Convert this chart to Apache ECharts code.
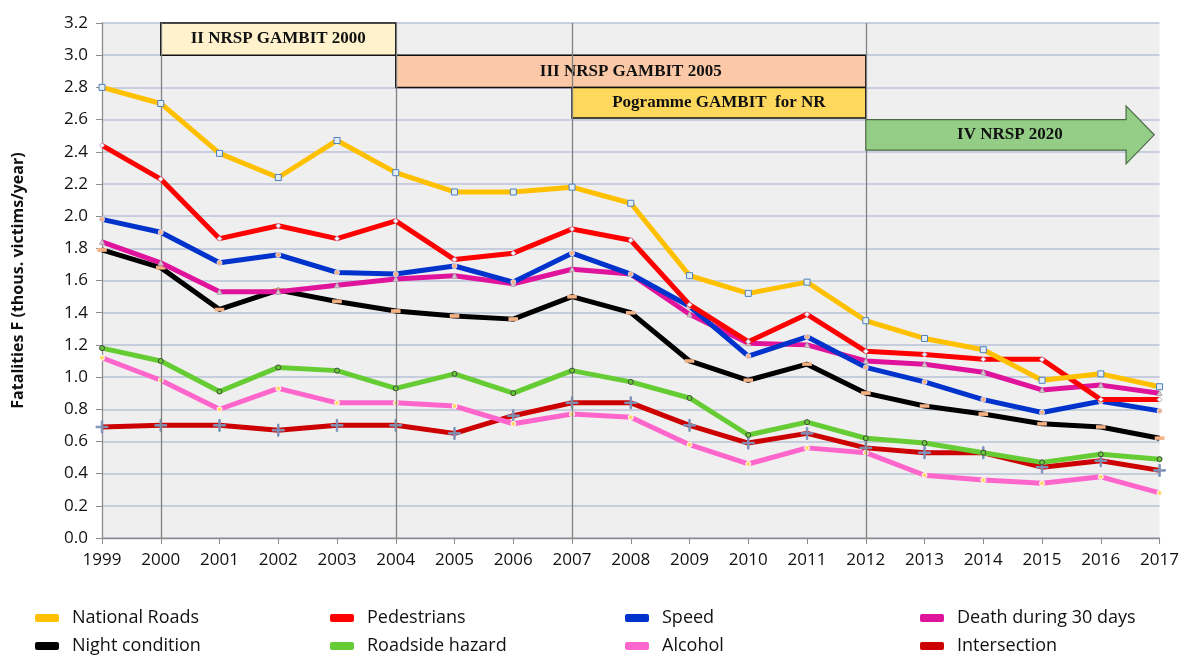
<!DOCTYPE html>
<html>
<head>
<meta charset="utf-8">
<title>Fatalities</title>
<script src="https://cdn.jsdelivr.net/npm/echarts/dist/echarts.min.js"></script>
<style>
  html, body { margin: 0; padding: 0; background: #fff; }
  #chart { width: 1182px; height: 656px; }
</style>
</head>
<body>
<div id="chart"></div>
<script>
// 年份
const years = ['1999', '2000', '2001', '2002', '2003', '2004', '2005', '2006', '2007', '2008',
  '2009', '2010', '2011', '2012', '2013', '2014', '2015', '2016', '2017']

// 各类死亡人数 (千人/年)
const nationalRoads = [2.80, 2.70, 2.39, 2.24, 2.47, 2.27, 2.15, 2.15, 2.18, 2.08, 1.63, 1.52, 1.59, 1.35, 1.24, 1.17, 0.98, 1.02, 0.94]
const pedestrians = [2.44, 2.23, 1.86, 1.94, 1.86, 1.97, 1.73, 1.77, 1.92, 1.85, 1.45, 1.22, 1.39, 1.16, 1.14, 1.11, 1.11, 0.86, 0.86]
const speed = [1.98, 1.90, 1.71, 1.76, 1.65, 1.64, 1.69, 1.59, 1.77, 1.64, 1.44, 1.13, 1.25, 1.06, 0.97, 0.86, 0.78, 0.85, 0.79]
const death30 = [1.84, 1.71, 1.53, 1.53, 1.57, 1.61, 1.63, 1.58, 1.67, 1.64, 1.39, 1.21, 1.20, 1.10, 1.08, 1.03, 0.92, 0.95, 0.90]
const nightCondition = [1.79, 1.68, 1.42, 1.54, 1.47, 1.41, 1.38, 1.36, 1.50, 1.40, 1.10, 0.98, 1.08, 0.90, 0.82, 0.77, 0.71, 0.69, 0.62]
const roadsideHazard = [1.18, 1.10, 0.91, 1.06, 1.04, 0.93, 1.02, 0.90, 1.04, 0.97, 0.87, 0.64, 0.72, 0.62, 0.59, 0.53, 0.47, 0.52, 0.49]
const alcohol = [1.12, 0.98, 0.80, 0.93, 0.84, 0.84, 0.82, 0.71, 0.77, 0.75, 0.58, 0.46, 0.56, 0.53, 0.39, 0.36, 0.34, 0.38, 0.28]
const intersection = [0.69, 0.70, 0.70, 0.67, 0.70, 0.70, 0.65, 0.76, 0.84, 0.84, 0.70, 0.59, 0.65, 0.56, 0.53, 0.53, 0.44, 0.48, 0.42]

// 纵轴刻度
const yMin = 0
const yMax = 3.2
const yStep = 0.2

// 各阶段 (起止年份 + 纵向范围)
const phaseNames = ['II NRSP GAMBIT 2000', 'III NRSP GAMBIT 2005', 'Pogramme GAMBIT  for NR']
const phaseStart = ['2000', '2004', '2007']
const phaseEnd = ['2004', '2012', '2012']
const phaseTop = [3.2, 3.0, 2.8]
const phaseBottom = [3.0, 2.8, 2.61]
const arrowName = 'IV NRSP 2020'
const arrowStart = '2012'

// 竖线所在年份
const markYears = ['2000', '2004', '2007', '2012']

const plusPath = 'path://M4.4,0h1.2v4.4h4.4v1.2h-4.4v4.4h-1.2v-4.4h-4.4v-1.2h4.4z'

const seriesDefs = [
  { name: 'National Roads', data: nationalRoads, color: '#ffc000', symbol: 'rect', size: 6, fill: '#e4eef8', border: '#4f81bd' },
  { name: 'Pedestrians', data: pedestrians, color: '#ff0000', symbol: 'diamond', size: 5, fill: '#ffffff', border: '#b9a0c8' },
  { name: 'Speed', data: speed, color: '#0033cc', symbol: 'circle', size: 5, fill: '#f4b183', border: '#dcd6e8' },
  { name: 'Death during 30 days', data: death30, color: '#e0139c', symbol: 'triangle', size: 5, fill: '#e8c0d8', border: '#aaaaaa' },
  { name: 'Night condition', data: nightCondition, color: '#000000', symbol: 'rect', size: [8, 3], fill: '#f4b183', border: '#f4b183' },
  { name: 'Roadside hazard', data: roadsideHazard, color: '#66cc33', symbol: 'circle', size: 5, fill: '#66cc33', border: '#444444' },
  { name: 'Alcohol', data: alcohol, color: '#ff66cc', symbol: 'circle', size: 5, fill: '#ffd966', border: '#ffffff' },
  { name: 'Intersection', data: intersection, color: '#cc0000', symbol: plusPath, size: 12, fill: '#7f93b8', border: '#7f93b8' },
]

const chartInstance = echarts.init(document.getElementById('chart'))

const labelFont = 'Open Sans'

// 图例: 四列两行, 每项一个 legend
const legendLeft = [30, 325, 620, 915]
const legendTop = [604, 632]
const legends = seriesDefs.map((s, i) => ({
  left: legendLeft[i % 4],
  top: legendTop[Math.floor(i / 4)],
  itemWidth: 24,
  itemHeight: 8,
  icon: 'roundRect',
  textStyle: { fontFamily: labelFont, fontSize: 18, color: '#111', padding: [0, 0, 0, 8] },
  data: [{ name: s.name, itemStyle: { color: s.color, borderWidth: 0 } }],
}))

const lineSeries = seriesDefs.map((s, i) => {
  const item = {
    name: s.name,
    type: 'line',
    data: s.data,
    color: s.color,
    z: 10 - i,
    symbol: s.symbol,
    symbolSize: s.size,
    showAllSymbol: true,
    lineStyle: { width: 5, color: s.color, join: 'round' },
    itemStyle: { color: s.fill, borderColor: s.border, borderWidth: 1 },
    emphasis: { disabled: true },
  }
  if (i === 0) {
    // 竖线
    item.markLine = {
      silent: true,
      symbol: 'none',
      label: { show: false },
      lineStyle: { color: '#808080', width: 1.3, type: 'solid' },
      data: markYears.map(y => ({ xAxis: y })),
    }
    // 阶段方框
    item.markArea = {
      silent: true,
      data: phaseNames.map((n, k) => [
        {
          name: n,
          xAxis: phaseStart[k],
          yAxis: phaseTop[k],
          itemStyle: { color: ['#fff2cc', '#fbc9a7', '#fed85d'][k], borderColor: '#111', borderWidth: 1.5 },
        },
        { xAxis: phaseEnd[k], yAxis: phaseBottom[k] },
      ]),
      label: {
        position: 'inside',
        fontFamily: 'Liberation Serif',
        fontWeight: 'bold',
        fontSize: 17,
        color: '#111',
      },
    }
  }
  return item
})

// 绿色箭头
const arrowSeries = {
  type: 'custom',
  name: arrowName,
  silent: true,
  z: 20,
  data: [[years.indexOf(arrowStart)]],
  renderItem(params, api) {
    const i0 = api.value(0)
    const step = api.coord([1, 0])[0] - api.coord([0, 0])[0]
    const x0 = api.coord([i0, 0])[0]
    const xHead = api.coord([years.length - 1, 0])[0] - step * 0.57
    const xTip = api.coord([years.length - 1, 0])[0] - step * 0.09
    const yTop = api.coord([0, 2.6])[1]
    const yBot = api.coord([0, 2.41])[1]
    const yHeadTop = api.coord([0, 2.685])[1]
    const yHeadBot = api.coord([0, 2.325])[1]
    const yMid = (yTop + yBot) / 2
    return {
      type: 'group',
      children: [
        {
          type: 'polygon',
          shape: {
            points: [[x0, yTop], [xHead, yTop], [xHead, yHeadTop], [xTip, yMid],
              [xHead, yHeadBot], [xHead, yBot], [x0, yBot]],
          },
          style: { fill: '#93cd86', stroke: '#4a6a45', lineWidth: 1.2 },
        },
        {
          type: 'text',
          x: (x0 + xHead) / 2 + 14,
          y: yMid,
          style: {
            text: arrowName,
            fill: '#111',
            font: 'bold 17px "Liberation Serif"',
            align: 'center',
            verticalAlign: 'middle',
          },
        },
      ],
    }
  },
}

const option = {
  backgroundColor: '#ffffff',
  animation: false,
  legend: legends,
  grid: {
    left: 102,
    right: 22,
    top: 23,
    bottom: 118,
    show: true,
    backgroundColor: '#efefef',
    borderWidth: 0,
  },
  xAxis: {
    type: 'category',
    data: years,
    boundaryGap: false,
    axisLine: { lineStyle: { color: '#8c8c8c', width: 1.3 } },
    axisTick: { show: true, length: 6, alignWithLabel: true, lineStyle: { color: '#8c8c8c' } },
    axisLabel: { fontFamily: labelFont, fontSize: 17, color: '#111', margin: 14 },
    splitLine: { show: false },
  },
  yAxis: {
    type: 'value',
    min: yMin,
    max: yMax,
    interval: yStep,
    name: 'Fatalities F (thous. victims/year)',
    nameLocation: 'middle',
    nameGap: 76,
    nameRotate: 90,
    nameTextStyle: { fontFamily: labelFont, fontSize: 16, fontWeight: 'bold', color: '#111' },
    axisLine: { show: true, lineStyle: { color: '#8c8c8c', width: 1.3 } },
    axisTick: { show: true, length: 6, lineStyle: { color: '#8c8c8c' } },
    axisLabel: {
      fontFamily: labelFont,
      fontSize: 17,
      color: '#111',
      margin: 14,
      formatter: v => v.toFixed(1),
    },
    splitLine: { lineStyle: { color: '#b8c3d8', width: 1.5 } },
  },
  series: lineSeries.concat([arrowSeries]),
}

chartInstance.setOption(option)
</script>
</body>
</html>
